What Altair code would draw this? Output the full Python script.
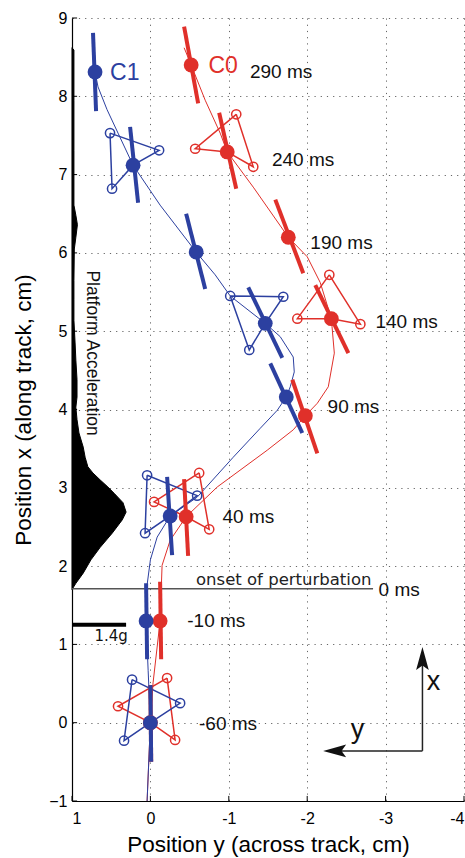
import altair as alt
import pandas as pd

RED = "#e0302a"
BLUE = "#2c40a0"

times = [290, 240, 190, 140, 90, 40, -10, -60]

# centre of body (across = position y, along = position x), cm
c1_across = [0.706, 0.221, -0.584, -1.465, -1.733, -0.252, 0.055, 0.0]
c1_along = [8.31, 7.12, 6.01, 5.10, 4.16, 2.64, 1.30, 0.0]
c0_across = [-0.520, -0.980, -1.759, -2.308, -1.976, -0.456, -0.124, 0.0]
c0_along = [8.40, 7.29, 6.20, 5.16, 3.92, 2.63, 1.30, 0.0]

# body orientation bars (two ends)
c1_bar_a1 = [0.732, 0.259, -0.456, -1.248, -1.529, -0.213, 0.055, 0.0]
c1_bar_l1 = [8.81, 7.61, 6.50, 5.56, 4.59, 3.14, 1.78, 0.48]
c1_bar_a2 = [0.693, 0.157, -0.699, -1.682, -1.937, -0.277, 0.042, -0.01]
c1_bar_l2 = [7.81, 6.64, 5.54, 4.66, 3.70, 2.14, 0.81, -0.50]
c0_bar_a1 = [-0.430, -0.877, -1.593, -2.103, -1.810, -0.430, -0.124, 0.0]
c0_bar_l1 = [8.89, 7.79, 6.68, 5.59, 4.38, 3.11, 1.80, 0.48]
c0_bar_a2 = [-0.609, -1.095, -1.950, -2.525, -2.129, -0.481, -0.137, -0.01]
c0_bar_l2 = [7.91, 6.82, 5.74, 4.72, 3.44, 2.13, 0.81, -0.50]

# marker triangles (three markers each)
tri_times = [240, 140, 40, -60]
c1_tri_across = [[0.515, 0.489, -0.111], [-1.018, -1.261, -1.695],
                 [0.042, 0.068, -0.596], [0.234, 0.336, -0.379]]
c1_tri_along = [[7.53, 6.82, 7.31], [5.45, 4.76, 5.44],
                [3.16, 2.42, 2.90], [0.55, -0.23, 0.25]]
c0_tri_across = [[-1.095, -0.571, -1.312], [-2.282, -1.874, -2.678],
                 [-0.622, -0.047, -0.750], [-0.213, 0.413, -0.315]]
c0_tri_along = [[7.77, 7.33, 7.10], [5.72, 5.16, 5.09],
                [3.19, 2.82, 2.47], [0.57, 0.21, -0.22]]

# trajectories
c1_traj_across = [0.706, 0.668, 0.553, 0.413, 0.221, -0.124, -0.584, -0.826, -1.018,
                  -1.465, -1.656, -1.822, -1.835, -1.784, -1.733, -1.618, -1.401,
                  -1.056, -0.596, -0.252, -0.086, 0.0, 0.042, 0.055, 0.029, 0.0, 0.042]
c1_traj_along = [8.31, 8.12, 7.83, 7.53, 7.12, 6.61, 6.01, 5.72, 5.45,
                 5.10, 4.93, 4.67, 4.48, 4.29, 4.16, 3.99, 3.76,
                 3.39, 2.88, 2.64, 2.37, 2.08, 1.76, 1.30, 0.67, 0.0, -1.0]
c0_traj_across = [-0.430, -0.520, -0.699, -0.890, -0.980, -1.312, -1.759, -2.001,
                  -2.167, -2.308, -2.346, -2.269, -2.129, -1.976, -1.822, -1.490,
                  -0.852, -0.456, -0.252, -0.149, -0.124, -0.034, 0.0, 0.042]
c0_traj_along = [8.62, 8.40, 7.95, 7.53, 7.29, 6.84, 6.20, 5.95,
                 5.62, 5.16, 4.72, 4.29, 4.08, 3.92, 3.74, 3.48,
                 3.01, 2.63, 2.33, 2.01, 1.30, 0.51, 0.0, -1.0]

# platform acceleration (g) along the track
accel_along = [1.70, 1.78, 1.91, 2.08, 2.24, 2.42, 2.59, 2.69, 2.81, 2.93, 3.01, 3.10,
               3.19, 3.27, 3.39, 3.52, 3.70, 3.87, 4.03, 4.16, 4.38, 4.63, 4.85, 5.14,
               5.40, 5.65, 6.05, 6.20, 6.36, 6.48, 6.61, 7.31, 7.95, 8.59, 8.62]
accel_g = [0.0, 0.10, 0.29, 0.49, 0.73, 1.04, 1.30, 1.40, 1.32, 1.09, 0.93, 0.73,
           0.54, 0.41, 0.34, 0.29, 0.18, 0.13, 0.10, 0.13, 0.13, 0.10, 0.08, 0.05,
           0.05, 0.05, 0.06, 0.10, 0.14, 0.10, 0.05, 0.05, 0.05, 0.05, 0.0]
G_SCALE = 0.69 / 1.4  # cm of plot per g
bar_g = 1.4
bar_along = 1.25
onset_along = 1.71
onset_end_across = -2.84

label_text = ["290 ms", "240 ms", "190 ms", "140 ms", "90 ms", "40 ms", "0 ms", "-10 ms", "-60 ms"]
label_across = [-1.27, -1.55, -2.04, -2.87, -2.26, -0.92, -2.91, -0.47, -0.62]
label_along = [8.31, 7.19, 6.13, 5.12, 4.03, 2.63, 1.69, 1.30, -0.02]

series_names = ["C0", "C1"]
series_across = [-0.74, 0.515]
series_along = [8.39, 8.30]

x_ticks = [-4, -3, -2, -1, 0, 1]
y_ticks = list(range(-1, 10))
TICK_LEN = 0.065  # inward tick length, cm

# ---------------- tables ----------------
traj = pd.DataFrame(
    [dict(s="C0", i=i, a=a, l=l) for i, (a, l) in enumerate(zip(c0_traj_across, c0_traj_along))]
    + [dict(s="C1", i=i, a=a, l=l) for i, (a, l) in enumerate(zip(c1_traj_across, c1_traj_along))]
)

def centre_of(s, t):
    idx = times.index(t)
    return (c0_across[idx], c0_along[idx]) if s == "C0" else (c1_across[idx], c1_along[idx])

tri_rows, mark_rows = [], []
for s, ta, tl in [("C0", c0_tri_across, c0_tri_along), ("C1", c1_tri_across, c1_tri_along)]:
    for k, t in enumerate(tri_times):
        ca, cl = centre_of(s, t)
        m = list(zip(ta[k], tl[k]))
        path = [m[0], m[1], (ca, cl), m[2], m[0]]
        for j, (a, l) in enumerate(path):
            tri_rows.append(dict(s=s, g=f"{s}{t}", i=j, a=a, l=l))
        for a, l in m:
            mark_rows.append(dict(s=s, a=a, l=l))
tri = pd.DataFrame(tri_rows)
marks = pd.DataFrame(mark_rows)

bars = pd.DataFrame(
    [dict(s="C0", a1=a1, l1=l1, a2=a2, l2=l2) for a1, l1, a2, l2 in zip(c0_bar_a1, c0_bar_l1, c0_bar_a2, c0_bar_l2)]
    + [dict(s="C1", a1=a1, l1=l1, a2=a2, l2=l2) for a1, l1, a2, l2 in zip(c1_bar_a1, c1_bar_l1, c1_bar_a2, c1_bar_l2)]
)
centres = pd.DataFrame(
    [dict(s="C0", a=a, l=l) for a, l in zip(c0_across, c0_along)]
    + [dict(s="C1", a=a, l=l) for a, l in zip(c1_across, c1_along)]
)
# closed outline of the acceleration profile (profile up, then back down the axis)
poly = pd.DataFrame(dict(
    i=list(range(len(accel_along) + 1)),
    l=accel_along + [accel_along[0]],
    a=[1 - g * G_SCALE for g in accel_g] + [1.0],
))
scalebar = pd.DataFrame(dict(a1=[1.0], a2=[1 - bar_g * G_SCALE], l1=[bar_along], l2=[bar_along]))
onset = pd.DataFrame(dict(a1=[1.0], a2=[onset_end_across], l1=[onset_along], l2=[onset_along]))
labels = pd.DataFrame(dict(t=label_text, a=label_across, l=label_along))
series_lab = pd.DataFrame(dict(s=series_names, a=series_across, l=series_along))
ticks = pd.DataFrame(
    [dict(a1=v, a2=v, l1=-1.0, l2=-1.0 + TICK_LEN) for v in x_ticks]
    + [dict(a1=1.0, a2=1.0 - TICK_LEN, l1=v, l2=v) for v in y_ticks]
)

frame = pd.DataFrame(dict(a1=[-3.47, -3.47], l1=[-0.36, -0.36], a2=[-3.47, -2.35], l2=[0.82, -0.36]))
head_up = pd.DataFrame(dict(a=[-3.47], l=[0.82]))
head_left = pd.DataFrame(dict(a=[-2.35], l=[-0.36]))
frame_lab = pd.DataFrame(dict(t=["x", "y"], a=[-3.61, -2.64], l=[0.52, -0.09]))
misc_lab = pd.DataFrame(dict(t=["1.4g"], a=[0.50], l=[1.11]))
plat_lab = pd.DataFrame(dict(t=["Platform Acceleration"], a=[0.745], l=[4.72]))
onset_lab = pd.DataFrame(dict(t=["onset of perturbation"], a=[-2.82], l=[1.71]))

# ---------------- encodings ----------------
XS = alt.Scale(domain=[-4, 1], reverse=True, nice=False, zero=False)
YS = alt.Scale(domain=[-1, 9], nice=False, zero=False)
XA = alt.Axis(values=x_ticks, grid=True, ticks=False, labelPadding=9,
              labelExpr="datum.value < 0 ? '-' + abs(datum.value) : '' + datum.value",
              title="Position y (across track, cm)", titlePadding=7)
YA = alt.Axis(values=y_ticks, grid=True, ticks=False, labelPadding=5,
              title="Position x (along track, cm)", titlePadding=13)

def X(f="a"):
    return alt.X(f"{f}:Q", scale=XS, axis=XA, stack=None)

def Y(f="l"):
    return alt.Y(f"{f}:Q", scale=YS, axis=YA, stack=None)

COL = alt.Color("s:N", scale=alt.Scale(domain=["C0", "C1"], range=[RED, BLUE]), legend=None)

poly_l = alt.Chart(poly).mark_line(fill="black", stroke="black", strokeWidth=1, interpolate="linear").encode(
    x=X(), y=Y(), order="i:Q")
tick_r = alt.Chart(ticks).mark_rule(color="black", strokeWidth=1).encode(
    x=X("a1"), y=Y("l1"), x2="a2:Q", y2="l2:Q")
sbar = alt.Chart(scalebar).mark_rule(color="black", strokeWidth=4).encode(
    x=X("a1"), x2="a2:Q", y=Y("l1"))
onset_rule = alt.Chart(onset).mark_rule(color="#555", strokeWidth=1.5).encode(
    x=X("a1"), x2="a2:Q", y=Y("l1"))

traj_l = alt.Chart(traj).mark_line(strokeWidth=1).encode(
    x=X(), y=Y(), color=COL, detail="s:N", order="i:Q")
tri_l = alt.Chart(tri).mark_line(strokeWidth=1.5).encode(
    x=X(), y=Y(), color=COL, detail="g:N", order="i:Q")
mark_p = alt.Chart(marks).mark_point(size=85, strokeWidth=1.5, filled=False, opacity=1).encode(
    x=X(), y=Y(), color=COL)
bar_r = alt.Chart(bars).mark_rule(strokeWidth=4).encode(
    x=X("a1"), y=Y("l1"), x2="a2:Q", y2="l2:Q", color=COL)
cent_p = alt.Chart(centres).mark_circle(size=220, opacity=1).encode(
    x=X(), y=Y(), color=COL)

lab_t = alt.Chart(labels).mark_text(align="left", baseline="middle", fontSize=19,
                                    font="Liberation Sans", color="#111").encode(
    x=X(), y=Y(), text="t:N")
ser_t = alt.Chart(series_lab).mark_text(align="left", baseline="middle", fontSize=23,
                                        font="Liberation Sans").encode(
    x=X(), y=Y(), text="s:N", color=COL)
onset_t = alt.Chart(onset_lab).mark_text(align="right", baseline="bottom", fontSize=16.5, dy=-1,
                                         font="DejaVu Sans", color="#222").encode(
    x=X(), y=Y(), text="t:N")
misc_t = alt.Chart(misc_lab).mark_text(align="center", baseline="middle", fontSize=15,
                                       font="DejaVu Sans", color="#111").encode(
    x=X(), y=Y(), text="t:N")
plat_t = alt.Chart(plat_lab).mark_text(align="center", baseline="middle", fontSize=17.5, angle=90,
                                       font="Liberation Sans", color="#111").encode(
    x=X(), y=Y(), text="t:N")

frame_r = alt.Chart(frame).mark_rule(color="#222", strokeWidth=1.5).encode(
    x=X("a1"), y=Y("l1"), x2="a2:Q", y2="l2:Q")
up_p = alt.Chart(head_up).mark_point(shape="M0,-1L0.55,1L0,0.6L-0.55,1Z", size=529, filled=True,
                                     color="#111", opacity=1, strokeWidth=0).encode(x=X(), y=Y())
left_p = alt.Chart(head_left).mark_point(shape="M-1,0L1,-0.55L0.6,0L1,0.55Z", size=529, filled=True,
                                         color="#111", opacity=1, strokeWidth=0).encode(x=X(), y=Y())
frame_t = alt.Chart(frame_lab).mark_text(align="center", baseline="middle", fontSize=27,
                                         font="Liberation Sans", color="#111").encode(
    x=X(), y=Y(), text="t:N")

chart = alt.layer(
    poly_l, tick_r, sbar, onset_rule, traj_l, tri_l, mark_p, bar_r, cent_p,
    lab_t, ser_t, onset_t, misc_t, plat_t, frame_r, up_p, left_p, frame_t,
).properties(
    width=392, height=783,
    autosize=alt.AutoSizeParams(type="none"),
    padding={"left": 72, "top": 18, "right": 1, "bottom": 57},
).configure(
    font="Liberation Sans",
).configure_view(
    stroke=None,
).configure_axis(
    gridColor="#666", gridDash=[1.2, 5], gridWidth=1, gridOpacity=1,
    domainColor="black", domainWidth=1.2,
    labelFont="Liberation Sans", labelFontSize=16, labelColor="black",
    titleFont="Liberation Sans", titleFontSize=22.5, titleFontWeight="normal", titleColor="black",
)

chart.save("out.html", embed_options={"renderer": "svg", "actions": False})
